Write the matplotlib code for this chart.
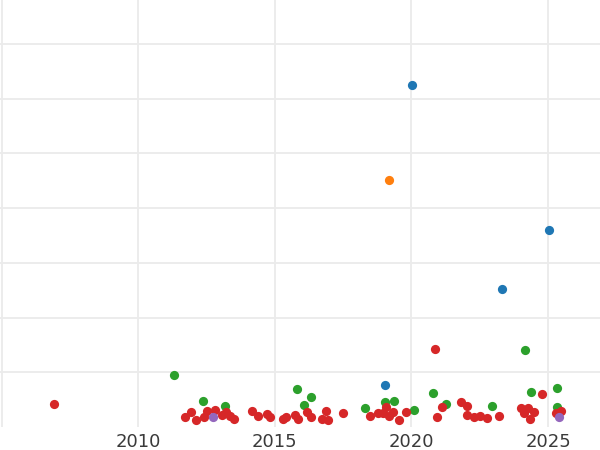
import numpy as np
import matplotlib.pyplot as plt

# year / value pairs for each group
blue_year = [2019.03, 2020.03, 2023.33, 2025.03]
blue_val = [0.77, 6.24, 2.52, 3.60]

orange_year = [2019.18]
orange_val = [4.52]

green_year = [2011.32, 2012.37, 2013.19, 2015.82, 2016.33, 2016.08, 2018.29, 2019.04, 2019.35,
              2020.11, 2020.79, 2021.26, 2022.93, 2024.15, 2024.39, 2025.34, 2025.34]
green_val = [0.95, 0.48, 0.39, 0.70, 0.55, 0.40, 0.34, 0.46, 0.47,
             0.31, 0.62, 0.43, 0.38, 1.41, 0.65, 0.71, 0.37]

red_year = [2006.93, 2011.71, 2011.92, 2012.10, 2012.41, 2012.50, 2012.82, 2013.05, 2013.20, 2013.36,
            2013.50, 2014.16, 2014.40, 2014.70, 2014.83, 2015.29, 2015.40, 2015.73, 2015.84, 2016.18,
            2016.32, 2016.72, 2016.86, 2016.95, 2017.50, 2018.50, 2018.78, 2018.94, 2019.06, 2019.18,
            2019.34, 2019.54, 2019.81, 2020.86, 2020.94, 2021.11, 2021.81, 2022.03, 2022.05, 2022.30,
            2022.49, 2022.78, 2023.21, 2024.02, 2024.11, 2024.28, 2024.48, 2024.33, 2024.78, 2025.29,
            2025.49]
red_val = [0.43, 0.19, 0.28, 0.13, 0.19, 0.30, 0.31, 0.22, 0.28, 0.20,
           0.14, 0.30, 0.20, 0.24, 0.19, 0.14, 0.19, 0.23, 0.14, 0.28,
           0.19, 0.14, 0.30, 0.13, 0.25, 0.20, 0.26, 0.26, 0.37, 0.20,
           0.28, 0.13, 0.28, 1.42, 0.19, 0.36, 0.46, 0.39, 0.23, 0.19,
           0.20, 0.17, 0.21, 0.34, 0.25, 0.34, 0.28, 0.14, 0.60, 0.26,
           0.30]

purple_year = [2012.74, 2025.39]
purple_val = [0.19, 0.18]

groups = [(blue_year, blue_val, 'tab:blue'),
          (orange_year, orange_val, 'tab:orange'),
          (green_year, green_val, 'tab:green'),
          (red_year, red_val, 'tab:red'),
          (purple_year, purple_val, 'tab:purple')]

year_ticks = [2005, 2010, 2015, 2020, 2025]
year_labels = ['', '2010', '2015', '2020', '2025']

fig = plt.figure(figsize=(6, 4.5), dpi=100)
ax = fig.add_axes([0, 0.0509, 1, 0.9491])

for xs, ys, color in groups:
    ax.scatter(np.array(xs), np.array(ys), s=44, c=color, linewidths=0, zorder=3)

ax.set_xlim(2004.94, 2026.90)
ax.set_ylim(0, 7.80)
ax.set_xticks(year_ticks)
ax.set_xticklabels(year_labels)
ax.set_yticks(range(1, 8))
ax.set_yticklabels([])
ax.tick_params(length=0)
ax.tick_params(axis='x', labelsize=13, labelcolor='#3a3a3a', pad=4.5)
ax.grid(color='#ebebeb', linewidth=1.3, zorder=0)
ax.set_axisbelow(True)
for s in ax.spines.values():
    s.set_visible(False)

fig.savefig('out.png', dpi=100)
